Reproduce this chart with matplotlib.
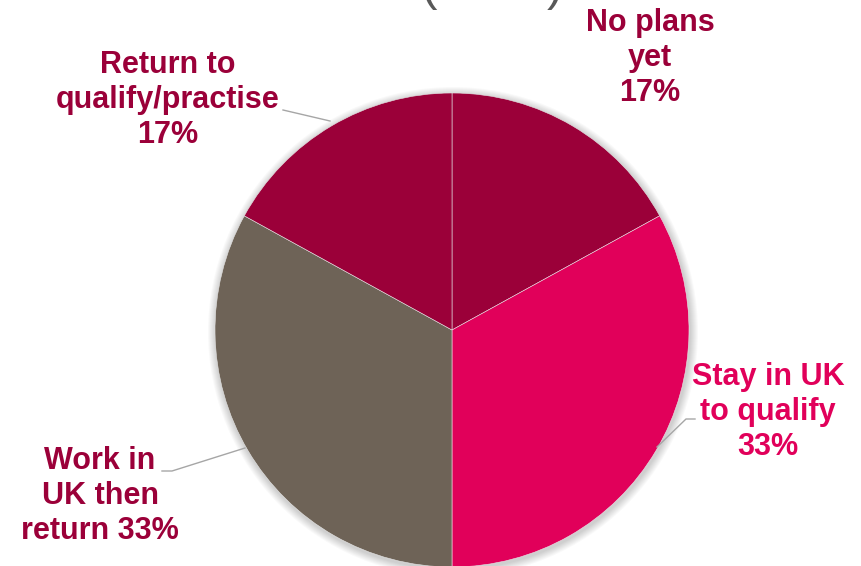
import numpy as np
import matplotlib.pyplot as plt
from matplotlib.patches import Circle

# plan categories, clockwise from 12 o'clock
labels  = ['No plans\nyet\n17%', 'Stay in UK\nto qualify\n33%',
           'Work in\nUK then\nreturn 33%', 'Return to\nqualify/practise\n17%']
shares  = [17, 33, 33, 17]
colours = ['#9B0039', '#E1005A', '#6E6357', '#9B0039']
title   = 'Student intentions (n = 6)'

fig = plt.figure(figsize=(8.61, 5.66), dpi=100)
ax = fig.add_axes([0, 0, 1, 1])
ax.set_aspect('equal')

cx, cy, R = 452, 566 - 330, 237

# soft drop shadow around the pie
for i in range(8):
    ax.add_patch(Circle((cx + 1, cy - 2), R + 1 + i, color='black',
                        alpha=0.025, lw=0, zorder=1))

ax.pie(shares, colors=colours, startangle=90, counterclock=False,
       center=(cx, cy), radius=R, frame=True,
       wedgeprops=dict(edgecolor='#e6e6e6', linewidth=0.4, zorder=2))
ax.set_xlim(0, 861)
ax.set_ylim(0, 566)
ax.axis('off')

# labels (pixel positions, y measured from top)
def put(x, y, s, col):
    ax.text(x, 566 - y, s, ha='center', va='center', fontsize=22,
            fontweight='bold', color=col, family='Liberation Sans',
            linespacing=1.22, zorder=5)

put(650, 58, labels[0], colours[0])
put(768, 412, labels[1], colours[1])
put(100, 496, labels[2], colours[0])
put(168, 100, labels[3], colours[0])

# leader lines
lc = '#a6a6a6'
ax.plot([283, 330], [566 - 110, 566 - 121], color=lc, lw=1, zorder=4)
ax.plot([162, 172, 245], [566 - 471, 566 - 471, 566 - 448], color=lc, lw=1, zorder=4)
ax.plot([695, 686, 657], [566 - 419, 566 - 419, 566 - 447], color=lc, lw=1, zorder=4)

# slide title, running off the top edge
ax.text(563, 566, title, ha='right', va='baseline', fontsize=35,
        color='#595959', family='Liberation Sans', zorder=5, clip_on=False)

fig.savefig('out.png', dpi=100)
